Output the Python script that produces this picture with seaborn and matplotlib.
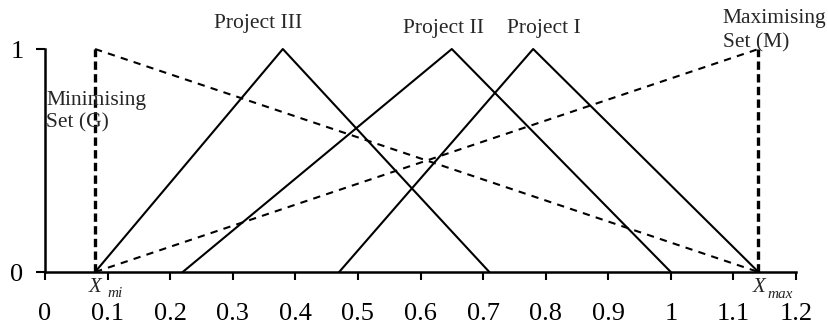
import numpy as np
import pandas as pd
import matplotlib
matplotlib.use("Agg")
import matplotlib.pyplot as plt
import seaborn as sns

# ---- data ----
x_mi = 0.08
x_max = 1.14

project_names = ["Project III", "Project II", "Project I"]
project_left = [0.08, 0.22, 0.47]
project_peak = [0.38, 0.65, 0.78]
project_right = [0.71, 1.00, 1.14]

x_ticks = [0, 0.1, 0.2, 0.3, 0.4, 0.5, 0.6, 0.7, 0.8, 0.9, 1.0, 1.1, 1.2]
x_tick_labels = ["0", "0.1", "0.2", "0.3", "0.4", "0.5", "0.6", "0.7",
                 "0.8", "0.9", "1", "1.1", "1.2"]
y_ticks = [0, 1]
y_tick_labels = ["0", "1"]

# ---- style ----
sns.set_style("ticks")
plt.rcParams['font.family'] = ['Liberation Serif', 'DejaVu Serif']

fig = plt.figure(figsize=(8.29, 3.31), dpi=100)
ax = fig.add_axes([0.0543, 0.1782, 0.9059, 0.6737])

# triangular membership functions of the projects
for name, l, p, r in zip(project_names, project_left, project_peak, project_right):
    df = pd.DataFrame({"x": [l, p, r], "mu": [0, 1, 0]})
    sns.lineplot(data=df, x="x", y="mu", sort=False, estimator=None,
                 color="black", linewidth=1.5, ax=ax, clip_on=False)

# minimising and maximising sets
dash = (0, (3.5, 3))
sns.lineplot(x=[x_mi, x_max], y=[1, 0], sort=False, estimator=None,
             color="black", linewidth=1.5, linestyle=dash, ax=ax, clip_on=False)
sns.lineplot(x=[x_mi, x_max], y=[0, 1], sort=False, estimator=None,
             color="black", linewidth=1.5, linestyle=dash, ax=ax, clip_on=False)

# vertical bounds
for xv in [x_mi, x_max]:
    sns.lineplot(x=[xv, xv], y=[0, 1], sort=False, estimator=None,
                 color="black", linewidth=2.4, linestyle=(0, (2.5, 1.3)),
                 ax=ax, clip_on=False)

ax.set_xlim(0, 1.2)
ax.set_ylim(0, 1)
ax.set_xticks(x_ticks)
ax.set_xticklabels(x_tick_labels)
ax.set_yticks(y_ticks)
ax.set_yticklabels(y_tick_labels)
ax.set_xlabel("")
ax.set_ylabel("")
ax.tick_params(axis="x", direction="out", length=6, width=1.5, pad=16,
               labelsize=19, colors="black")
ax.tick_params(axis="y", direction="out", length=6.5, width=1.5, pad=9,
               labelsize=19, colors="black")
sns.despine(ax=ax)
for s in ["left", "bottom"]:
    ax.spines[s].set_linewidth(1.8)
    ax.spines[s].set_color("black")

# annotations
fs = 15.5
label_y = [1.094, 1.072, 1.072]
label_x = [0.341, 0.637, 0.797]
for name, lx, ly in zip(project_names, label_x, label_y):
    ax.text(lx, ly, name, ha="center", va="baseline", fontsize=fs,
            clip_on=False)

ax.text(0.002, 0.749, "Minimising", ha="left", va="baseline", fontsize=fs)
ax.text(0.002, 0.650, "Set (G)", ha="left", va="baseline", fontsize=fs)
ax.text(1.083, 1.117, "Maximising", ha="left", va="baseline", fontsize=fs)
ax.text(1.083, 1.009, "Set (M)", ha="left", va="baseline", fontsize=fs)

ax.text(0.069, -0.090, "X", ha="left", va="baseline", fontsize=15,
        style="italic")
ax.text(0.099, -0.112, "mi", ha="left", va="baseline", fontsize=11,
        style="italic")
ax.text(1.131, -0.090, "X", ha="left", va="baseline", fontsize=15,
        style="italic")
ax.text(1.154, -0.117, "max", ha="left", va="baseline", fontsize=11,
        style="italic")

fig.savefig("out.png", dpi=100)
